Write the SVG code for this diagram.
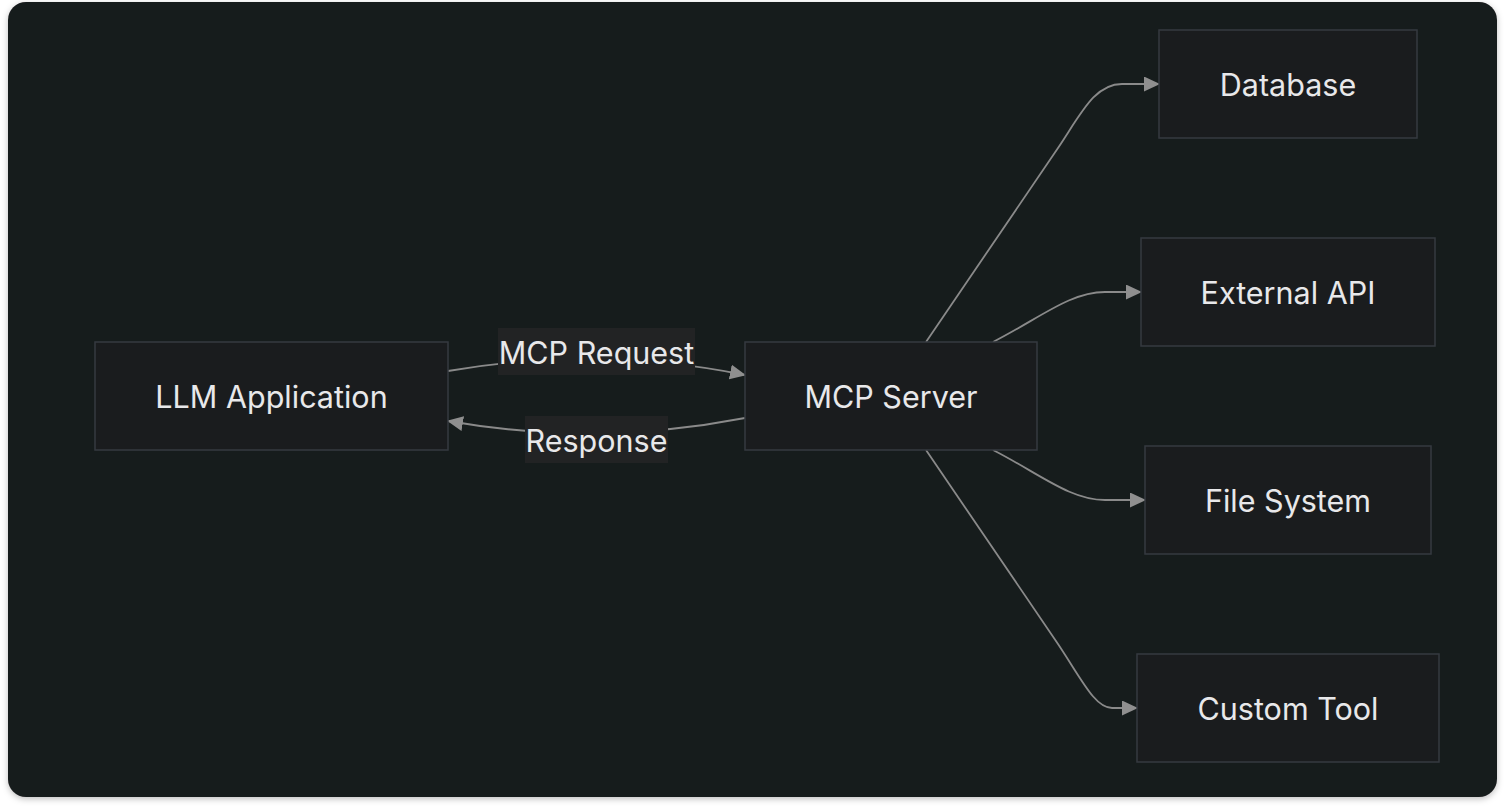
<svg xmlns="http://www.w3.org/2000/svg" width="1505" height="811" viewBox="0 0 1505 811">
<style>
.node rect{fill:#1a1c1e;stroke:#363a40;stroke-width:1.5}
.node text,.lbl text{font-family:Inter,"Noto Sans",sans-serif;font-size:30.5px;fill:#e8e8ea;text-anchor:middle;dominant-baseline:central}
.edge{fill:none;stroke:#8a8a8a;stroke-width:1.8}
.lbl rect{fill:#222324}
</style>
<defs>
<marker id="arr" viewBox="0 0 16 15" refX="15" refY="7.5" markerWidth="16" markerHeight="15" markerUnits="userSpaceOnUse" orient="auto">
<path d="M0,0 L16,7.5 L0,15 Z" fill="#8f8f8f"/>
</marker>
<filter id="sh" x="-5%" y="-5%" width="110%" height="110%">
<feDropShadow dx="0" dy="2" stdDeviation="3" flood-color="#000" flood-opacity="0.25"/>
</filter>
</defs>
<rect width="1505" height="811" fill="#ffffff"/>
<rect x="8" y="2" width="1489" height="795" rx="18" fill="#181b1d" filter="url(#sh)"/>
<g id="connectors">
<path class="edge" d="M448,371 Q596,345 745,375" marker-end="url(#arr)"/>
<path class="edge" d="M745,418 Q596,447 448,421" marker-end="url(#arr)"/>
<path class="edge" d="M926,342 L1058,148 C1082,112 1095,84 1122,84 L1159,84" marker-end="url(#arr)"/>
<path class="edge" d="M993,342 C1040,318 1070,292 1105,292 L1141,292" marker-end="url(#arr)"/>
<path class="edge" d="M993,450 C1040,474 1070,500 1105,500 L1145,500" marker-end="url(#arr)"/>
<path class="edge" d="M926,450 L1058,644 C1082,680 1095,708 1112,708 L1137,708" marker-end="url(#arr)"/>
</g>
<g id="label-request" class="lbl"><rect x="498" y="328" width="197" height="47"/><text x="596.5" y="352">MCP Request</text></g>
<g id="label-response" class="lbl"><rect x="525" y="416" width="143" height="47"/><text x="596.5" y="440">Response</text></g>
<g id="llm" class="node"><rect x="95" y="342" width="353" height="108"/><text x="271.5" y="396">LLM Application</text></g>
<g id="mcp" class="node"><rect x="745" y="342" width="292" height="108"/><text x="891" y="396">MCP Server</text></g>
<g id="db" class="node"><rect x="1159" y="30" width="258" height="108"/><text x="1288" y="84">Database</text></g>
<g id="api" class="node"><rect x="1141" y="238" width="294" height="108"/><text x="1288" y="292">External API</text></g>
<g id="fs" class="node"><rect x="1145" y="446" width="286" height="108"/><text x="1288" y="500">File System</text></g>
<g id="tool" class="node"><rect x="1137" y="654" width="302" height="108"/><text x="1288" y="708">Custom Tool</text></g>
</svg>
